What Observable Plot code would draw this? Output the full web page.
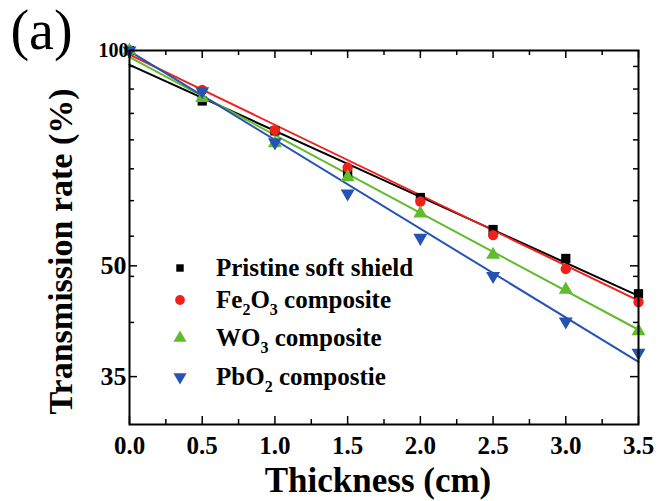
<!DOCTYPE html>
<html><head><meta charset="utf-8">
<script src="https://cdn.jsdelivr.net/npm/d3@7"></script>
<script src="https://cdn.jsdelivr.net/npm/@observablehq/plot@0.6"></script>
<style>
html,body{margin:0;padding:0;background:#fff;}
#chart{position:relative;width:658px;height:501px;}
svg{display:block;}
</style></head><body><div id="chart"></div>
<script>
// ---- data ----
const thickness = [0, 0.5, 1.0, 1.5, 2.0, 2.5, 3.0, 3.5];
const pristine = [100, 85.0, 77.2, 67.2, 62.3, 56.2, 51.2, 45.7];
const fe2o3    = [100, 88.1, 77.4, 68.6, 61.5, 55.2, 49.5, 44.5];
const wo3      = [100, 85.8, 74.2, 66.5, 59.2, 51.8, 46.3, 40.5];
const pbo2     = [100, 87.7, 74.4, 63.1, 54.7, 48.4, 41.8, 37.8];
// exponential fit lines (straight on log axis): value at start and end of range
const fitRange = [0, 3.5];
const fitStart = [95.5, 98.7, 97.9, 99.8];
const fitEnd   = [45.4, 44.7, 40.7, 36.7];
const seriesNames = ["Pristine soft shield", "Fe2O3 composite", "WO3 composite", "PbO2 compostie"];
// legend labels as [text, isSubscript] segments
const legendLabels = [
  [["Pristine soft shield", 0]],
  [["Fe", 0], ["2", 1], ["O", 0], ["3", 1], [" composite", 0]],
  [["WO", 0], ["3", 1], [" composite", 0]],
  [["PbO", 0], ["2", 1], [" compostie", 0]]
];
const colors = ["#000000", "#f0201c", "#62bb2d", "#2553b4"];
const symbols = ["square", "circle", "triangle", "triangle"];
const rotations = [0, 0, 0, 180];
const xMajorTicks = [0, 0.5, 1.0, 1.5, 2.0, 2.5, 3.0, 3.5];
const xMinorTicks = [0.25, 0.75, 1.25, 1.75, 2.25, 2.75, 3.25];
const yLabelTicks = [35, 50];
const yTopTick = [100];
const yMinorTicks = [41.67, 48.33, 55, 61.67, 68.33, 75, 81.67, 88.33, 95];
const xTitle = "Thickness (cm)";
const yTitle = "Transmission rate (%)";
const panelLabel = "(a)";

// ---- layout ----
const W = 658, H = 501, mL = 129, mR = 20, mT = 50, mB = 77;
const frameW = W - mL - mR, frameH = H - mT - mB;
const serif = "'Liberation Serif', 'Times New Roman', Tinos, serif";
const seriesValues = [pristine, fe2o3, wo3, pbo2];

const marks = [];
seriesValues.forEach((vals, i) => {
  marks.push(Plot.line(fitRange.map((x, j) => ({x, y: j === 0 ? fitStart[i] : fitEnd[i]})),
    {x: "x", y: "y", stroke: colors[i], strokeWidth: 2}));
});
seriesValues.forEach((vals, i) => {
  marks.push(Plot.dot(thickness.map((x, j) => ({x, y: vals[j]})),
    {x: "x", y: "y", symbol: symbols[i], rotate: rotations[i], r: 5.2, fill: colors[i], stroke: "none"}));
});
const majLen = 8, minLen = 5;
const txt = {fontWeight: "bold", fontFamily: serif, fill: "black"};
marks.push(
  Plot.tickX(xMajorTicks, {x: d => d, insetTop: frameH - majLen, strokeWidth: 1.5}),
  Plot.tickX(xMajorTicks, {x: d => d, insetBottom: frameH - majLen, strokeWidth: 1.5}),
  Plot.tickX(xMinorTicks, {x: d => d, insetTop: frameH - minLen, strokeWidth: 1.5}),
  Plot.tickX(xMinorTicks, {x: d => d, insetBottom: frameH - minLen, strokeWidth: 1.5}),
  Plot.tickY(yLabelTicks, {y: d => d, insetRight: frameW - majLen, strokeWidth: 1.5}),
  Plot.tickY(yLabelTicks, {y: d => d, insetLeft: frameW - majLen, strokeWidth: 1.5}),
  Plot.tickY(yMinorTicks, {y: d => d, insetRight: frameW - minLen, strokeWidth: 1.5}),
  Plot.tickY(yMinorTicks, {y: d => d, insetLeft: frameW - minLen, strokeWidth: 1.5}),
  Plot.frame({stroke: "black", strokeWidth: 2}),
  Plot.text(xMajorTicks, {x: d => d, text: d => d.toFixed(1), frameAnchor: "bottom", dy: 21,
    lineAnchor: "middle", textAnchor: "middle", fontSize: 25, ...txt}),
  Plot.text(yLabelTicks, {y: d => d, text: d => String(d), frameAnchor: "left", dx: -3,
    textAnchor: "end", lineAnchor: "middle", fontSize: 26, ...txt}),
  Plot.text(yTopTick, {y: d => d, text: d => String(d), frameAnchor: "left", dx: -1,
    textAnchor: "end", lineAnchor: "middle", fontSize: 20, ...txt}),
  Plot.text([xTitle], {text: d => d, frameAnchor: "bottom", dy: 56, dx: -6,
    lineAnchor: "middle", textAnchor: "middle", fontSize: 35, ...txt}),
  Plot.text([yTitle], {text: d => d, frameAnchor: "left", dx: -68, dy: 14, rotate: -90,
    lineAnchor: "middle", textAnchor: "middle", fontSize: 34, ...txt}),
  Plot.text([panelLabel], {text: d => d, frameAnchor: "top-left", dx: -88, dy: -19,
    lineAnchor: "middle", textAnchor: "middle", fontSize: 56, fontWeight: "normal", fontFamily: serif, fill: "black"})
);

const plot = Plot.plot({
  width: W, height: H,
  marginLeft: mL, marginRight: mR, marginTop: mT, marginBottom: mB,
  style: {background: "white", color: "black", fontFamily: serif, overflow: "visible"},
  x: {domain: [0, 3.5], axis: null},
  y: {type: "log", domain: [30, 100], axis: null},
  marks
});

// ---- legend (layout constants) ----
const svg = d3.select(plot);
const legendX = 180, textX = 216;
const legendRowsY = [268, 300, 338, 377];
const lg = svg.append("g").attr("font-family", serif).attr("font-weight", "bold").attr("text-anchor", "start");
legendLabels.forEach((segs, i) => {
  const y = legendRowsY[i];
  const type = symbols[i] === "square" ? d3.symbolSquare : symbols[i] === "circle" ? d3.symbolCircle : d3.symbolTriangle;
  lg.append("path")
    .attr("d", d3.symbol(type, symbols[i] === "square" ? 55 : 75)())
    .attr("transform", `translate(${legendX},${y}) rotate(${rotations[i]})`)
    .attr("fill", colors[i]);
  const t = lg.append("text").attr("x", textX).attr("y", y + 8).attr("font-size", 25).attr("fill", "black");
  let shifted = false;
  segs.forEach(([s, sub]) => {
    const ts = t.append("tspan").text(s);
    if (sub && !shifted) { ts.attr("dy", 7).attr("font-size", 16); shifted = true; }
    else if (sub) { ts.attr("font-size", 16); }
    else if (shifted) { ts.attr("dy", -7); shifted = false; }
  });
});

document.getElementById("chart").appendChild(plot);
</script>
</body></html>
